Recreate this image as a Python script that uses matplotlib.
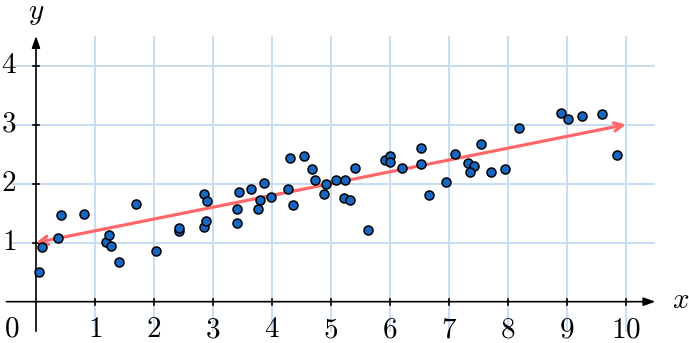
import numpy as np
import matplotlib
matplotlib.use("Agg")
import matplotlib.pyplot as plt

plt.rcParams['mathtext.fontset'] = 'cm'
plt.rcParams['font.family'] = 'serif'
plt.rcParams['font.serif'] = ['cmr10', 'DejaVu Serif']
plt.rcParams['axes.unicode_minus'] = False

# dados
pontos_x = [0.05, 0.11, 0.37, 0.42, 0.81, 1.19, 1.23, 1.28, 1.41, 1.70,
            2.03, 2.42, 2.42, 2.84, 2.90, 2.84, 2.88,
            3.41, 3.41, 3.45, 3.64, 3.76, 3.80, 3.86, 3.98, 4.28, 4.31,
            4.35, 4.54, 4.68, 4.73, 4.88, 4.91, 5.08, 5.24, 5.22, 5.32,
            5.41, 5.63, 5.92, 6.00, 6.00, 6.20, 6.53, 6.53, 6.67, 6.95,
            7.11, 7.32, 7.42, 7.35, 7.54, 7.71, 7.95, 8.18, 8.90, 9.02,
            9.25, 9.59, 9.85]
pontos_y = [0.50, 0.92, 1.08, 1.47, 1.48, 1.01, 1.13, 0.94, 0.67, 1.65,
            0.86, 1.19, 1.24, 1.83, 1.71, 1.27, 1.37,
            1.33, 1.57, 1.86, 1.91, 1.57, 1.72, 2.01, 1.77, 1.91, 2.43,
            1.64, 2.47, 2.24, 2.06, 1.82, 2.00, 2.06, 2.06, 1.75, 1.73,
            2.27, 1.22, 2.40, 2.47, 2.37, 2.26, 2.61, 2.34, 1.80, 2.02,
            2.50, 2.35, 2.29, 2.20, 2.67, 2.19, 2.25, 2.95, 3.19, 3.09,
            3.14, 3.18, 2.48]

# reta ajustada
reta_x = [0, 10]
reta_y = [1.0, 3.0]

ticks_x = [1, 2, 3, 4, 5, 6, 7, 8, 9, 10]
ticks_y = [1, 2, 3, 4]

fig = plt.figure(figsize=(6.89, 3.43), dpi=100)
ax = fig.add_axes([0, 0, 1, 1])
ax.set_xlim(-0.61, 11.07)
ax.set_ylim(-0.70, 5.11)
ax.axis('off')

cor_grade = '#c8dcf0'
ax.vlines(ticks_x, -0.52, 4.5, color=cor_grade, lw=1.4, zorder=1)
ax.hlines(ticks_y, -0.45, 10.5, color=cor_grade, lw=1.4, zorder=1)

# eixos com seta
ax.annotate('', xy=(10.5, 0), xytext=(-0.5, 0),
            arrowprops=dict(arrowstyle='-|>,head_length=0.7,head_width=0.25',
                            color='black', lw=1.2, shrinkA=0, shrinkB=0), zorder=3)
ax.annotate('', xy=(0, 4.5), xytext=(0, -0.5),
            arrowprops=dict(arrowstyle='-|>,head_length=0.7,head_width=0.25',
                            color='black', lw=1.2, shrinkA=0, shrinkB=0), zorder=3)

# marcas
for t in ticks_x:
    ax.plot([t, t], [-0.05, 0.05], color='black', lw=1.2, zorder=3)
    ax.text(t, -0.48, '$%d$' % t, ha='center', va='center', fontsize=21)
for t in ticks_y:
    ax.plot([-0.05, 0.05], [t, t], color='black', lw=1.2, zorder=3)
    ax.text(-0.33, t, '$%d$' % t, ha='right', va='center', fontsize=21)
ax.text(-0.415, -0.46, '$0$', ha='center', va='center', fontsize=21)
ax.text(10.92, 0.02, '$x$', ha='center', va='center', fontsize=21)
ax.text(0.0, 4.88, '$y$', ha='center', va='center', fontsize=21)

# reta com seta dupla
ax.annotate('', xy=(reta_x[1], reta_y[1]), xytext=(reta_x[0], reta_y[0]),
            arrowprops=dict(arrowstyle='<->,head_length=0.6,head_width=0.3',
                            color='#ff6868', lw=2.3, shrinkA=0, shrinkB=0), zorder=4)

ax.scatter(pontos_x, pontos_y, s=42, c='#1767c2', edgecolors='black',
           linewidths=1.1, zorder=5)

fig.savefig('out.png', dpi=100)
